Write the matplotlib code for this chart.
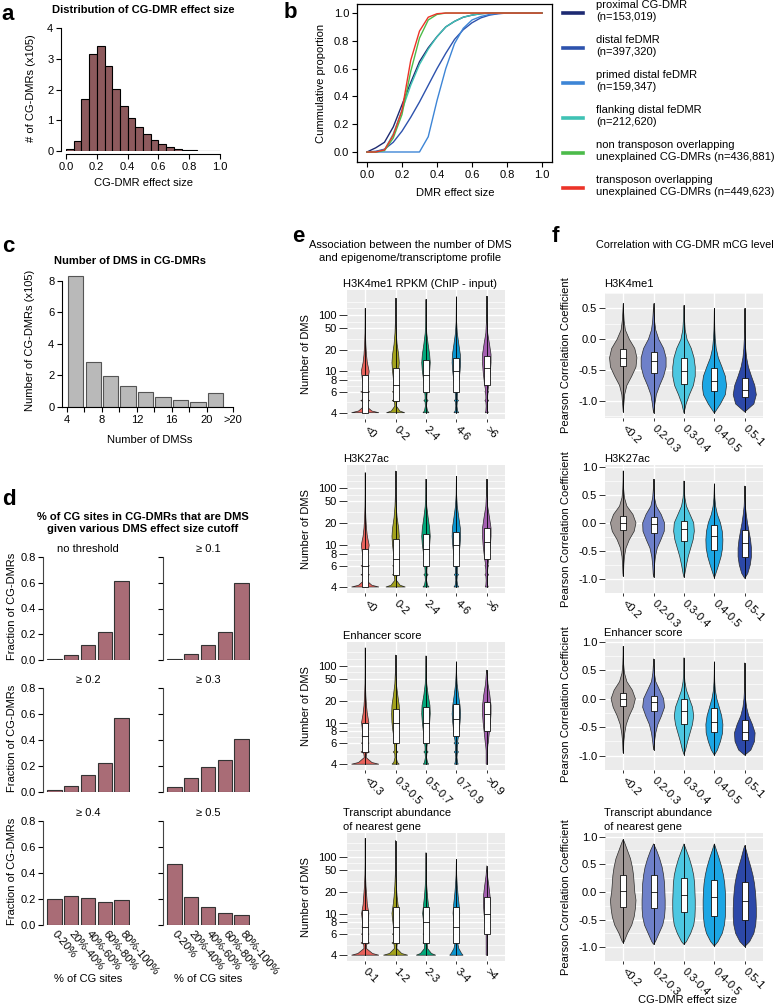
import numpy as np
import matplotlib
matplotlib.use("Agg")
import matplotlib.pyplot as plt
from matplotlib.patches import Rectangle
from matplotlib.lines import Line2D

plt.rcParams['font.family'] = ['Liberation Sans', 'DejaVu Sans']
plt.rcParams['font.size'] = 8
FS = 8

# ---------------- data ----------------
# a: histogram of CG-DMR effect size (x10^5)
a_edges = [0.0, 0.05, 0.1, 0.15, 0.2, 0.25, 0.3, 0.35, 0.4, 0.45, 0.5,
           0.55, 0.6, 0.65, 0.7, 0.75, 0.8, 0.85, 0.9, 0.95]
a_counts = [0.06, 0.32, 1.68, 3.16, 3.40, 2.76, 2.01, 1.46, 1.08, 0.78, 0.54,
            0.37, 0.23, 0.14, 0.08, 0.04, 0.02, 0.01, 0.005, 0.003]

# b: cumulative proportions
b_x = [0.0, 0.05, 0.1, 0.15, 0.2, 0.25, 0.3, 0.35, 0.4, 0.45, 0.5,
       0.55, 0.6, 0.65, 0.7, 0.75, 0.8, 0.85, 0.9, 0.95, 1.0]
b_proximal = [0, 0.03, 0.07, 0.18, 0.34, 0.5, 0.65, 0.75, 0.83, 0.9, 0.94,
              0.97, 0.985, 0.995, 1, 1, 1, 1, 1, 1, 1]
b_distal = [0, 0.005, 0.02, 0.07, 0.15, 0.25, 0.36, 0.48, 0.6, 0.71, 0.81,
            0.88, 0.93, 0.965, 0.985, 0.995, 1, 1, 1, 1, 1]
b_primed = [0, 0, 0, 0, 0, 0, 0, 0.11, 0.37, 0.6, 0.78,
            0.89, 0.95, 0.975, 0.99, 0.997, 1, 1, 1, 1, 1]
b_flanking = [0, 0, 0.015, 0.13, 0.3, 0.48, 0.63, 0.74, 0.83, 0.9, 0.94,
              0.97, 0.985, 0.995, 1, 1, 1, 1, 1, 1, 1]
b_nontp = [0, 0, 0.01, 0.1, 0.27, 0.58, 0.82, 0.95, 0.99, 1, 1,
           1, 1, 1, 1, 1, 1, 1, 1, 1, 1]
b_tp = [0, 0, 0.015, 0.12, 0.3, 0.66, 0.87, 0.97, 0.995, 1, 1,
        1, 1, 1, 1, 1, 1, 1, 1, 1, 1]
b_labels = ["proximal CG-DMR\n(n=153,019)", "distal feDMR\n(n=397,320)",
            "primed distal feDMR\n(n=159,347)", "flanking distal feDMR\n(n=212,620)",
            "non transposon overlapping\nunexplained CG-DMRs (n=436,881)",
            "transposon overlapping\nunexplained CG-DMRs (n=449,623)"]
b_colors = ["#1d2a72", "#2d52ad", "#3d85d6", "#3fc2b4", "#4cbb4a", "#ec3328"]

# c: number of DMS in CG-DMRs (x10^5)
c_centers = [5, 7, 9, 11, 13, 15, 17, 19, 21]
c_counts = [8.32, 2.87, 1.95, 1.36, 0.98, 0.66, 0.47, 0.32, 0.89]

# d: fraction of CG-DMRs by % of CG sites that are DMS
d_cats = ["0-20%", "20%-40%", "40%-60%", "60%-80%", "80%-100%"]
d_titles = ["no threshold", "\u2265 0.1", "\u2265 0.2", "\u2265 0.3", "\u2265 0.4", "\u2265 0.5"]
d_none = [0.005, 0.04, 0.115, 0.215, 0.615]
d_01 = [0.01, 0.045, 0.12, 0.22, 0.595]
d_02 = [0.015, 0.05, 0.13, 0.225, 0.57]
d_03 = [0.04, 0.11, 0.195, 0.245, 0.405]
d_04 = [0.20, 0.22, 0.205, 0.175, 0.195]
d_05 = [0.47, 0.215, 0.14, 0.095, 0.075]

# e: violins of number of DMS (half widths on a shared grid of DMS values)
e_grid = [4, 4.12, 4.5, 4.88, 5, 5.12, 5.5, 5.88, 6, 6.12, 6.5, 7, 8, 10, 13, 17, 25, 40, 70]
e_colors = ["#e8625b", "#a3a31c", "#00a97b", "#0a95d0", "#a55fb2"]
e_titles = ["H3K4me1 RPKM (ChIP - input)", "H3K27ac", "Enhancer score",
            "Transcript abundance\nof nearest gene"]
e_cats = [["<0", "0-2", "2-4", "4-6", ">6"], ["<0", "0-2", "2-4", "4-6", ">6"],
          ["<0.3", "0.3-0.5", "0.5-0.7", "0.7-0.9", ">0.9"], ["0-1", "1-2", "2-3", "3-4", ">4"]]
e1_hw = [[0.45, 0.22, 0.03, 0.05, 0.15, 0.05, 0.03, 0.05, 0.15, 0.05, 0.04, 0.06, 0.09, 0.13, 0.07, 0.04, 0.02, 0.008, 0.004],
         [0.30, 0.14, 0.025, 0.04, 0.11, 0.04, 0.03, 0.04, 0.11, 0.04, 0.04, 0.05, 0.07, 0.10, 0.12, 0.10, 0.05, 0.02, 0.006],
         [0.10, 0.05, 0.02, 0.03, 0.07, 0.03, 0.03, 0.04, 0.08, 0.04, 0.05, 0.06, 0.08, 0.12, 0.14, 0.12, 0.07, 0.025, 0.008],
         [0.08, 0.04, 0.02, 0.03, 0.07, 0.03, 0.03, 0.04, 0.07, 0.04, 0.05, 0.06, 0.09, 0.12, 0.14, 0.13, 0.08, 0.03, 0.008],
         [0.05, 0.03, 0.02, 0.03, 0.06, 0.03, 0.03, 0.04, 0.06, 0.04, 0.05, 0.07, 0.09, 0.12, 0.14, 0.14, 0.09, 0.03, 0.01]]
e2_hw = [[0.45, 0.22, 0.03, 0.05, 0.14, 0.05, 0.03, 0.05, 0.14, 0.05, 0.04, 0.06, 0.09, 0.13, 0.07, 0.04, 0.02, 0.008, 0.004],
         [0.32, 0.15, 0.025, 0.04, 0.10, 0.04, 0.03, 0.04, 0.10, 0.04, 0.04, 0.05, 0.07, 0.10, 0.12, 0.10, 0.05, 0.02, 0.006],
         [0.10, 0.05, 0.02, 0.03, 0.07, 0.03, 0.03, 0.04, 0.08, 0.04, 0.05, 0.06, 0.08, 0.12, 0.14, 0.12, 0.07, 0.025, 0.008],
         [0.08, 0.04, 0.02, 0.03, 0.07, 0.03, 0.03, 0.04, 0.07, 0.04, 0.05, 0.06, 0.09, 0.12, 0.14, 0.13, 0.08, 0.03, 0.008],
         [0.05, 0.03, 0.02, 0.03, 0.06, 0.03, 0.03, 0.04, 0.06, 0.04, 0.05, 0.07, 0.09, 0.12, 0.14, 0.14, 0.09, 0.03, 0.01]]
e3_hw = [[0.45, 0.22, 0.03, 0.05, 0.14, 0.05, 0.03, 0.05, 0.13, 0.05, 0.05, 0.10, 0.09, 0.12, 0.07, 0.04, 0.02, 0.008, 0.004],
         [0.12, 0.06, 0.02, 0.03, 0.08, 0.03, 0.03, 0.04, 0.08, 0.04, 0.05, 0.06, 0.09, 0.12, 0.13, 0.12, 0.07, 0.025, 0.008],
         [0.09, 0.05, 0.02, 0.03, 0.07, 0.03, 0.03, 0.04, 0.08, 0.04, 0.05, 0.06, 0.09, 0.12, 0.14, 0.13, 0.07, 0.025, 0.008],
         [0.06, 0.04, 0.02, 0.03, 0.07, 0.03, 0.03, 0.04, 0.08, 0.04, 0.05, 0.07, 0.09, 0.12, 0.14, 0.12, 0.07, 0.025, 0.006],
         [0.02, 0.02, 0.02, 0.02, 0.02, 0.02, 0.03, 0.04, 0.05, 0.05, 0.06, 0.07, 0.09, 0.12, 0.14, 0.14, 0.10, 0.04, 0.01]]
e4_hw = [[0.45, 0.24, 0.04, 0.05, 0.14, 0.05, 0.03, 0.05, 0.13, 0.05, 0.05, 0.10, 0.09, 0.12, 0.07, 0.05, 0.025, 0.01, 0.004],
         [0.40, 0.2, 0.04, 0.05, 0.12, 0.05, 0.03, 0.05, 0.11, 0.05, 0.05, 0.07, 0.09, 0.12, 0.08, 0.05, 0.025, 0.01, 0.004],
         [0.32, 0.18, 0.05, 0.04, 0.10, 0.04, 0.03, 0.04, 0.10, 0.04, 0.05, 0.06, 0.08, 0.11, 0.08, 0.05, 0.025, 0.008, 0.003],
         [0.22, 0.17, 0.08, 0.05, 0.08, 0.05, 0.03, 0.04, 0.08, 0.04, 0.05, 0.06, 0.08, 0.11, 0.09, 0.06, 0.03, 0.01, 0.003],
         [0.02, 0.02, 0.02, 0.02, 0.02, 0.02, 0.02, 0.02, 0.02, 0.02, 0.03, 0.04, 0.06, 0.09, 0.11, 0.11, 0.07, 0.02, 0.005]]
e_tips = [[148, 285, 266, 320, 335], [259, 288, 170, 203, 170],
          [307, 190, 180, 126, 79], [317, 271, 126, 86, 62]]
e_boxes = [[(4, 6, 9), (5, 7, 11), (6, 9, 14), (6, 10, 15), (7, 11, 16)],
           [(4, 6, 9), (5, 7, 12), (6, 9, 14), (6, 10, 15), (7, 11, 17)],
           [(5, 7, 10), (6, 10, 15), (6, 10, 16), (7, 11, 18), (8, 13, 19)],
           [(5, 7, 11), (5, 7, 12), (5, 8, 12), (5, 7, 12), (6, 10, 17)]]
e_ylims = [(3.61, 523), (3.63, 440), (3.64, 465), (3.64, 465)]
e_yticks = [4, 6, 8, 10, 20, 50, 100]

# f: violins of Pearson correlation (half widths on a shared grid)
f_grid = [-1.2, -1.05, -0.9, -0.75, -0.6, -0.45, -0.3, -0.15, 0.0, 0.15, 0.3, 0.45, 0.6, 0.75, 0.9]
f_colors = ["#a09896", "#6e80c9", "#4dc7e1", "#1ca6e4", "#2c48a8"]
f_cats = ["<0.2", "0.2-0.3", "0.3-0.4", "0.4-0.5", "0.5-1"]
f_titles = ["H3K4me1", "H3K27ac", "Enhancer score", "Transcript abundance\nof nearest gene"]
f1_hw = [[0, 0.02, 0.045, 0.12, 0.28, 0.42, 0.45, 0.38, 0.2, 0.07, 0.03, 0.012, 0, 0, 0],
         [0, 0.04, 0.09, 0.2, 0.33, 0.41, 0.41, 0.33, 0.17, 0.07, 0.03, 0.012, 0, 0, 0],
         [0, 0.07, 0.18, 0.31, 0.37, 0.37, 0.33, 0.24, 0.1, 0.04, 0.02, 0.008, 0, 0, 0],
         [0, 0.2, 0.36, 0.4, 0.36, 0.25, 0.13, 0.06, 0.03, 0.015, 0.008, 0.004, 0, 0, 0],
         [0, 0.3, 0.38, 0.33, 0.22, 0.12, 0.06, 0.03, 0.015, 0.008, 0.004, 0.002, 0, 0, 0]]
f2_hw = [[0, 0, 0.01, 0.02, 0.04, 0.09, 0.2, 0.36, 0.42, 0.32, 0.12, 0.04, 0.015, 0.006, 0.002],
         [0, 0, 0.015, 0.03, 0.06, 0.12, 0.24, 0.35, 0.36, 0.25, 0.09, 0.03, 0.01, 0.003, 0],
         [0, 0, 0.03, 0.08, 0.14, 0.22, 0.3, 0.34, 0.32, 0.2, 0.08, 0.03, 0.01, 0.003, 0],
         [0, 0, 0.05, 0.14, 0.22, 0.27, 0.28, 0.26, 0.2, 0.1, 0.04, 0.015, 0.005, 0, 0],
         [0, 0, 0.1, 0.18, 0.22, 0.22, 0.19, 0.14, 0.09, 0.05, 0.02, 0.008, 0.003, 0, 0]]
f3_hw = [[0, 0, 0.01, 0.02, 0.05, 0.1, 0.2, 0.33, 0.4, 0.3, 0.12, 0.04, 0.015, 0.006, 0.002],
         [0, 0, 0, 0.03, 0.07, 0.14, 0.26, 0.36, 0.33, 0.2, 0.07, 0.025, 0.008, 0, 0],
         [0, 0, 0.05, 0.12, 0.2, 0.28, 0.32, 0.28, 0.18, 0.08, 0.03, 0.01, 0.003, 0, 0],
         [0, 0, 0.1, 0.2, 0.27, 0.28, 0.24, 0.16, 0.08, 0.03, 0.012, 0.005, 0.002, 0, 0],
         [0, 0, 0.2, 0.32, 0.34, 0.25, 0.13, 0.06, 0.025, 0.01, 0.005, 0.002, 0.001, 0, 0]]
f4_hw = [[0, 0, 0.03, 0.14, 0.28, 0.36, 0.4, 0.42, 0.38, 0.36, 0.34, 0.3, 0.24, 0.14, 0.04],
         [0, 0, 0.06, 0.18, 0.3, 0.36, 0.38, 0.38, 0.37, 0.36, 0.33, 0.28, 0.2, 0.1, 0],
         [0, 0, 0.08, 0.22, 0.32, 0.36, 0.37, 0.37, 0.36, 0.35, 0.32, 0.26, 0.18, 0.08, 0],
         [0, 0, 0.12, 0.26, 0.33, 0.36, 0.37, 0.37, 0.36, 0.34, 0.3, 0.24, 0.16, 0.07, 0],
         [0, 0, 0.16, 0.3, 0.36, 0.38, 0.38, 0.37, 0.35, 0.32, 0.27, 0.2, 0.12, 0.05, 0]]
f_ranges = [[(-1.18, 0.58), (-1.2, 0.58), (-1.2, 0.55), (-1.2, 0.5), (-1.18, 0.5)],
            [(-0.95, 0.93), (-0.97, 0.78), (-0.97, 0.75), (-0.98, 0.7), (-0.99, 0.66)],
            [(-0.95, 0.92), (-0.9, 0.7), (-0.98, 0.72), (-0.99, 0.65), (-0.99, 0.63)],
            [(-0.92, 0.95), (-0.95, 0.87), (-0.95, 0.87), (-0.98, 0.87), (-0.99, 0.84)]]
f_boxes = [[(-0.44, -0.30, -0.16), (-0.54, -0.35, -0.20), (-0.72, -0.51, -0.31), (-0.84, -0.67, -0.47), (-0.93, -0.82, -0.63)],
           [(-0.13, 0.0, 0.12), (-0.18, -0.02, 0.10), (-0.33, -0.11, 0.03), (-0.48, -0.23, -0.04), (-0.61, -0.36, -0.13)],
           [(-0.12, 0.0, 0.10), (-0.22, -0.05, 0.04), (-0.45, -0.22, -0.01), (-0.59, -0.41, -0.17), (-0.73, -0.58, -0.37)],
           [(-0.28, 0.02, 0.31), (-0.29, 0.0, 0.30), (-0.37, -0.06, 0.25), (-0.43, -0.10, 0.21), (-0.50, -0.16, 0.18)]]
f_ylims = [(-1.278, 0.655), (-1.083, 1.033), (-1.065, 1.048), (-1.05, 1.066)]

# ---------------- layout helpers ----------------
W, H = 776, 1007
fig = plt.figure(figsize=(W / 100, H / 100), dpi=100)


def box(x0, y0, x1, y1):
    return fig.add_axes([x0 / W, 1 - y1 / H, (x1 - x0) / W, (y1 - y0) / H])


def txt(x, y, s, **kw):
    kw.setdefault('ha', 'center')
    kw.setdefault('va', 'center')
    kw.setdefault('fontsize', FS)
    fig.text(x / W, 1 - y / H, s, **kw)


def letter(x, y, s):
    txt(x, y, s, fontsize=16, fontweight='bold', ha='left')


# ---------------- a ----------------
ax = box(66, 28, 220, 151)
ax.bar(a_edges, a_counts, width=0.05, align='edge', color='#8d5a5d', edgecolor='black', lw=0.8)
ax.set_xlim(0, 1)
ax.set_ylim(0, 4)
for s in ['top', 'right']:
    ax.spines[s].set_visible(False)
ax.spines['left'].set_position(('outward', 3.6))
ax.spines['bottom'].set_position(('outward', 2.5))
ax.set_xticks([0, 0.2, 0.4, 0.6, 0.8, 1.0])
ax.set_xticklabels(['0.0', '0.2', '0.4', '0.6', '0.8', '1.0'])
ax.set_yticks([0, 1, 2, 3, 4])
ax.tick_params(length=3.5, labelsize=FS, pad=2)
letter(1, 14, 'a')
txt(143, 10, 'Distribution of CG-DMR effect size', fontweight='bold')
txt(143, 183, 'CG-DMR effect size')
txt(31, 88, '# of CG-DMRs (x105)', rotation=90)

# ---------------- b ----------------
ax = box(357, 4, 552, 162)
for ys, col in zip([b_proximal, b_distal, b_primed, b_flanking, b_nontp, b_tp], b_colors):
    ax.plot(b_x, ys, color=col, lw=1.0)
ax.set_xlim(-0.057, 1.057)
ax.set_ylim(-0.072, 1.065)
ax.set_xticks([0, 0.2, 0.4, 0.6, 0.8, 1.0])
ax.set_xticklabels(['0.0', '0.2', '0.4', '0.6', '0.8', '1.0'])
ax.set_yticks([0, 0.2, 0.4, 0.6, 0.8, 1.0])
ax.set_yticklabels(['0.0', '0.2', '0.4', '0.6', '0.8', '1.0'])
ax.tick_params(length=3.5, labelsize=FS, pad=2)
for s in ax.spines.values():
    s.set_linewidth(0.9)
letter(284, 12, 'b')
txt(321, 83, 'Cummulative proportion', rotation=90)
txt(455, 193, 'DMR effect size')
for i, (lab, col) in enumerate(zip(b_labels, b_colors)):
    yh = 13 + i * 35
    fig.add_artist(Line2D([563 / W, 583 / W], [1 - yh / H, 1 - yh / H], color=col, lw=2.6))
    txt(596, yh - 2, lab, ha='left', linespacing=1.2)

# ---------------- c ----------------
ax = box(62, 275, 233, 407)
ax.bar(c_centers, c_counts, width=1.75, color='#b9b9b9', edgecolor='#555555', lw=0.8)
ax.set_xlim(3.43, 22.97)
ax.set_ylim(0, 8.38)
for s in ['top', 'right']:
    ax.spines[s].set_visible(False)
ax.spines['left'].set_bounds(0, 8)
ax.set_yticks([0, 2, 4, 6, 8])
ax.set_xticks([4, 6, 8, 10, 12, 14, 16, 18, 20, 23])
ax.set_xticklabels(['4', '', '8', '', '12', '', '16', '', '20', '>20'])
ax.tick_params(length=3.5, labelsize=FS, pad=2)
letter(2, 247, 'c')
txt(130, 261, 'Number of DMS in CG-DMRs', fontweight='bold')
txt(150, 440, 'Number of DMSs')
txt(30, 340, 'Number of CG-DMRs (x105)', rotation=90)

# ---------------- d ----------------
letter(2, 500, 'd')
txt(143, 517, '% of CG sites in CG-DMRs that are DMS', fontweight='bold')
txt(143, 529, 'given various DMS effect size cutoff', fontweight='bold')
d_vals = [d_none, d_01, d_02, d_03, d_04, d_05]
d_rows = [(557, 660), (688, 792), (821, 925)]
for k, vals in enumerate(d_vals):
    r, cidx = k // 2, k % 2
    x0 = 43 if cidx == 0 else 163
    y0, y1 = d_rows[r]
    ax = box(x0, y0, x0 + 87, y1)
    ax.bar(range(5), vals, width=0.86, color='#a96c76', edgecolor='#333333', lw=0.8)
    ax.set_xlim(-0.67, 4.5)
    ax.set_ylim(0, 0.8)
    for s in ['top', 'right', 'bottom']:
        ax.spines[s].set_visible(False)
    ax.spines['left'].set_color('#444444')
    ax.set_yticks([0, 0.2, 0.4, 0.6, 0.8])
    if cidx == 0:
        ax.set_yticklabels(['0.0', '0.2', '0.4', '0.6', '0.8'])
        txt(12, (y0 + y1) / 2 - 2, 'Fraction of CG-DMRs', rotation=90)
    else:
        ax.set_yticklabels([])
    ax.tick_params(axis='y', length=3.5, labelsize=FS, pad=1.5)
    ax.set_xticks(range(5))
    if r == 2:
        ax.set_xticklabels(d_cats, rotation=-50, ha='left', va='center', rotation_mode='anchor')
        ax.tick_params(axis='x', length=0, labelsize=FS, pad=5)
        txt(x0 + 45, 979, '% of CG sites')
    else:
        ax.set_xticklabels([])
        ax.tick_params(axis='x', length=0)
    txt(x0 + 45, y0 - 8, d_titles[k])


# ---------------- e / f helpers ----------------
def gg_panel(ax, cats, ytick_len):
    ax.set_facecolor('#EBEBEB')
    for s in ax.spines.values():
        s.set_visible(False)
    ax.set_xlim(0.4, 5.6)
    ax.set_xticks(range(1, 6))
    ax.set_xticklabels(cats, rotation=-45, ha='left', va='center', rotation_mode='anchor')
    ax.grid(True, which='major', color='white', lw=1.0)
    ax.grid(True, which='minor', axis='y', color='white', lw=0.5)
    ax.set_axisbelow(True)
    ax.tick_params(axis='y', which='major', length=ytick_len, width=0.7, color='#333333',
                   labelsize=FS, pad=1.5)
    ax.tick_params(axis='y', which='minor', length=0)
    ax.tick_params(axis='x', length=2.5, width=0.7, color='#333333', labelsize=FS, pad=4)


def violin(ax, pos, ys, hws, color):
    ys = np.asarray(ys, float)
    hws = np.asarray(hws, float)
    xs = np.concatenate([pos - hws, (pos + hws)[::-1]])
    yy = np.concatenate([ys, ys[::-1]])
    ax.fill(xs, yy, facecolor=color, edgecolor='#2a2a2a', lw=0.5, zorder=2)


def boxplot(ax, pos, lo, hi, q1, med, q3):
    ax.plot([pos, pos], [lo, hi], color='black', lw=0.6, zorder=3)
    ax.add_patch(Rectangle((pos - 0.1, q1), 0.2, q3 - q1, facecolor='white',
                           edgecolor='#111111', lw=0.6, zorder=4))
    ax.plot([pos - 0.1, pos + 0.1], [med, med], color='#111111', lw=0.6, zorder=5)


# ---------------- e ----------------
def fwd(y):
    return np.log(np.log(np.maximum(y, 1.0001)))


def inv(t):
    return np.exp(np.exp(t))


letter(292, 237, 'e')
txt(410, 245, 'Association between the number of DMS')
txt(410, 258, 'and epigenome/transcriptome profile')
e_rows = [(290, 419), (465, 593), (642, 770), (833, 961)]
e_hws = [e1_hw, e2_hw, e3_hw, e4_hw]
tt = fwd(np.array(e_yticks, float))
e_minor = list(inv((tt[:-1] + tt[1:]) / 2)) + [inv(tt[-1] + (tt[-1] - tt[-2]) / 2), inv(tt[-1] + (tt[-1] - tt[-2]))]
for p in range(4):
    y0, y1 = e_rows[p]
    ax = box(347, y0, 505, y1)
    ax.set_yscale('function', functions=(fwd, inv))
    ax.set_ylim(*e_ylims[p])
    ax.set_yticks(e_yticks)
    ax.set_yticklabels([str(v) for v in e_yticks])
    ax.set_yticks(e_minor, minor=True)
    ax.yaxis.set_minor_formatter(plt.NullFormatter())
    gg_panel(ax, e_cats[p], 6)
    for i in range(5):
        tip = e_tips[p][i]
        ys = [g for g in e_grid if g < tip] + [tip]
        hw = e_hws[p][i][:len(ys) - 1] + [0]
        violin(ax, i + 1, ys, hw, e_colors[i])
        q1, med, q3 = e_boxes[p][i]
        boxplot(ax, i + 1, 4, tip, q1, med, q3)
    lines = e_titles[p].split('\n')
    for j, line in enumerate(lines):
        txt(343, y0 - 6 - 14 * (len(lines) - 1 - j), line, ha='left')
    txt(306, (y0 + y1) / 2, 'Number of DMS', rotation=90)

# ---------------- f ----------------
letter(552, 237, 'f')
txt(774, 245, 'Correlation with CG-DMR mCG level', ha='right', fontsize=7.8)
f_rows = [(293, 418), (465, 593), (639, 770), (833, 961)]
f_hws = [f1_hw, f2_hw, f3_hw, f4_hw]
for p in range(4):
    y0, y1 = f_rows[p]
    ax = box(605, y0, 763, y1)
    ax.set_ylim(*f_ylims[p])
    yt = [v for v in [-1.0, -0.5, 0.0, 0.5, 1.0] if f_ylims[p][0] <= v <= f_ylims[p][1]]
    ax.set_yticks(yt)
    ax.set_yticklabels(['%.1f' % v for v in yt])
    ax.set_yticks([-1.25, -0.75, -0.25, 0.25, 0.75], minor=True)
    gg_panel(ax, f_cats, 4)
    for i in range(5):
        lo, hi = f_ranges[p][i]
        sel = [(g, w) for g, w in zip(f_grid, f_hws[p][i]) if lo < g < hi]
        ys = [lo] + [g for g, w in sel] + [hi]
        hw = [0] + [w for g, w in sel] + [0]
        violin(ax, i + 1, ys, hw, f_colors[i])
        q1, med, q3 = f_boxes[p][i]
        boxplot(ax, i + 1, lo, hi, q1, med, q3)
    lines = f_titles[p].split('\n')
    for j, line in enumerate(lines):
        txt(604, y0 - 6 - 14 * (len(lines) - 1 - j) - (3 if p == 0 else 0), line, ha='left')
    txt(566, (y0 + y1) / 2, 'Pearson Correlation Coefficient', rotation=90)
txt(687, 1000, 'CG-DMR effect size')

fig.savefig('out.png', dpi=100)
